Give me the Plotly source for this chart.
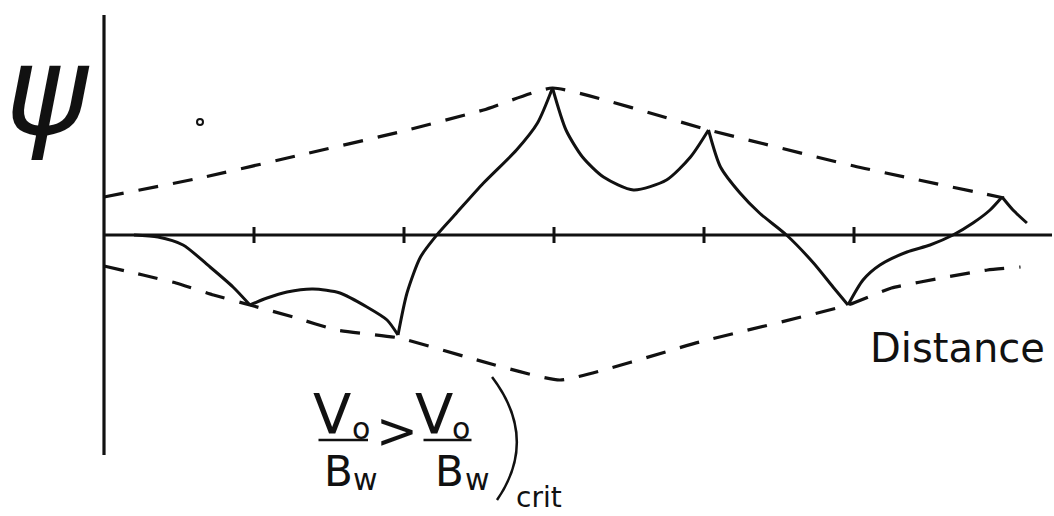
import plotly.graph_objects as go

# Distance along the channel (tick units) and potential psi (arbitrary units)
tick_positions = [1, 2, 3, 4, 5]

# Solid potential profile, drawn as arcs between the cusps
arc_x = [
    [0.20, 0.36, 0.527, 0.707, 0.86, 0.973],
    [0.973, 1.087, 1.22, 1.393, 1.573, 1.753, 1.887, 1.96],
    [1.96, 2.02, 2.11, 2.23, 2.35, 2.53, 2.75, 2.89, 2.99],
    [2.99, 3.08, 3.19, 3.33, 3.53, 3.75, 3.91, 4.03],
    [4.03, 4.11, 4.24, 4.37, 4.55, 4.73, 4.86, 4.96],
    [4.96, 5.06, 5.173, 5.353, 5.507, 5.66, 5.793, 5.907, 5.987],
    [5.987, 6.06, 6.153],
]
arc_y = [
    [0.00, -0.02, -0.10, -0.32, -0.52, -0.70],
    [-0.70, -0.63, -0.57, -0.54, -0.58, -0.72, -0.85, -1.00],
    [-1.00, -0.58, -0.22, 0.02, 0.22, 0.52, 0.85, 1.12, 1.47],
    [1.47, 1.05, 0.78, 0.58, 0.45, 0.55, 0.78, 1.05],
    [1.05, 0.68, 0.42, 0.22, 0.00, -0.28, -0.52, -0.70],
    [-0.70, -0.45, -0.30, -0.17, -0.10, 0.00, 0.12, 0.25, 0.38],
    [0.38, 0.25, 0.12],
]

# Dashed envelopes
upper_x = [0.00, 0.64, 1.31, 1.97, 2.53, 2.99, 4.03, 5.00, 6.00]
upper_y = [0.38, 0.57, 0.80, 1.03, 1.25, 1.47, 1.05, 0.69, 0.37]
lower_x = [0.00, 0.26, 0.48, 0.73, 0.973, 1.26, 1.55, 1.97, 2.44, 3.04,
           3.97, 4.96, 5.25, 5.62, 5.89, 6.11]
lower_y = [-0.31, -0.40, -0.48, -0.60, -0.70, -0.82, -0.95, -1.03, -1.23, -1.45,
           -1.07, -0.70, -0.53, -0.42, -0.35, -0.32]

INK = "#111111"
fig = go.Figure()

# axes drawn as plain strokes
fig.add_trace(go.Scatter(x=[0, 0], y=[2.2, -2.2], mode="lines",
                         line=dict(color=INK, width=3.2), hoverinfo="skip"))
fig.add_trace(go.Scatter(x=[0, 6.32], y=[0, 0], mode="lines",
                         line=dict(color=INK, width=3.2), hoverinfo="skip"))
tx, ty = [], []
for t in tick_positions:
    tx += [t, t, None]
    ty += [0.08, -0.08, None]
fig.add_trace(go.Scatter(x=tx, y=ty, mode="lines",
                         line=dict(color=INK, width=3), hoverinfo="skip"))

# envelopes
for ex, ey in ((upper_x, upper_y), (lower_x, lower_y)):
    fig.add_trace(go.Scatter(x=ex, y=ey, mode="lines", line_shape="spline",
                             line=dict(color=INK, width=3.2, dash="20px,15px",
                                       smoothing=0.4),
                             hoverinfo="skip"))

# potential profile
px, py = [], []
for ax_, ay_ in zip(arc_x, arc_y):
    px += ax_ + [None]
    py += ay_ + [None]
fig.add_trace(go.Scatter(x=px, y=py, mode="lines", line_shape="spline",
                         line=dict(color=INK, width=3, smoothing=0.7),
                         connectgaps=False, hoverinfo="skip"))

# small stray mark
fig.add_trace(go.Scatter(x=[0.64], y=[1.13], mode="markers",
                         marker=dict(symbol="circle-open", size=6, color=INK,
                                     line=dict(color=INK, width=2)),
                         hoverinfo="skip"))

FONT = "DejaVu Sans"


def label(x, y, text, size):
    fig.add_annotation(x=x, y=y, text=text, showarrow=False,
                       xanchor="center", yanchor="middle",
                       font=dict(family=FONT, size=size, color=INK))


label(-0.38, 1.45, "<i>ψ</i>", 125)
label(5.69, -1.13, "Distance", 40)

# V_o / B_w > V_o / B_w)crit
label(1.52, -1.78, "V", 56)
label(1.71, -1.93, "o", 30)
label(1.56, -2.36, "B", 42)
label(1.74, -2.44, "w", 30)
label(1.95, -1.96, ">", 50)
label(2.20, -1.78, "V", 56)
label(2.38, -1.93, "o", 30)
label(2.30, -2.36, "B", 42)
label(2.49, -2.44, "w", 30)
label(2.90, -2.62, "crit", 28)

for x0, x1 in ((1.43, 1.76), (2.13, 2.45)):
    fig.add_shape(type="line", x0=x0, x1=x1, y0=-2.05, y1=-2.05,
                  line=dict(color=INK, width=2.5))
fig.add_shape(type="path", path="M 2.587,-1.42 Q 2.90,-2.04 2.62,-2.65",
              line=dict(color=INK, width=2.5))

fig.update_layout(
    width=1054, height=516,
    margin=dict(l=0, r=0, t=0, b=0),
    paper_bgcolor="white", plot_bgcolor="white",
    showlegend=False,
    xaxis=dict(range=[-0.6933, 6.3333], visible=False, fixedrange=True),
    yaxis=dict(range=[-2.81, 2.35], visible=False, fixedrange=True),
)

fig.write_html("out.html")
